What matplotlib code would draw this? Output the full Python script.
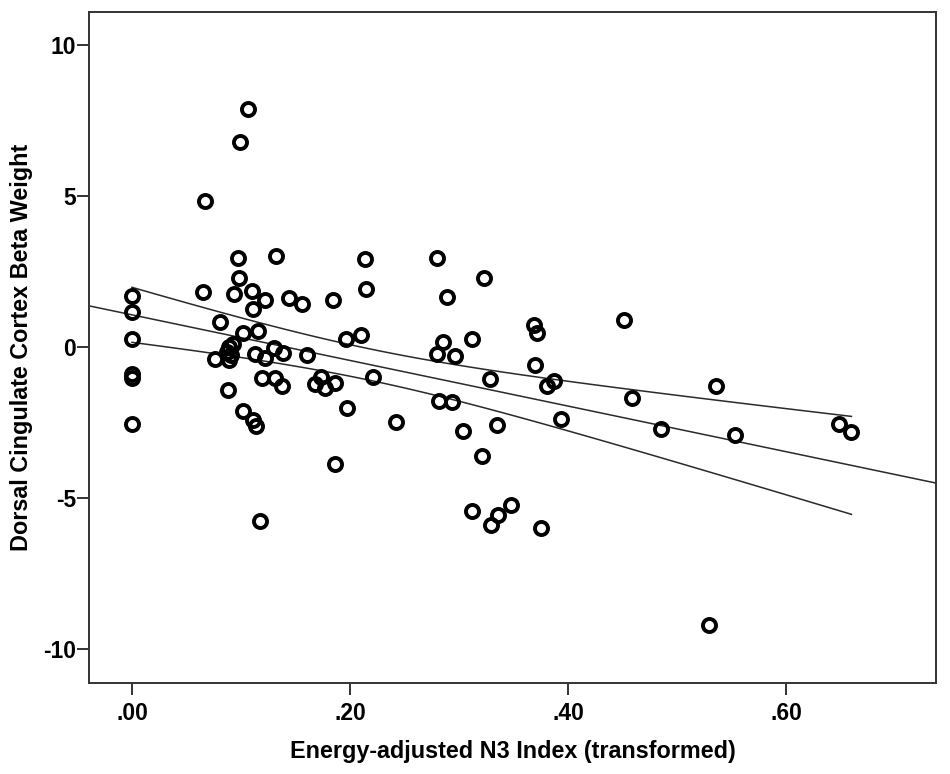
import numpy as np
import matplotlib
matplotlib.use("Agg")
import matplotlib.pyplot as plt

# values
n3_index = [0.000, 0.000, 0.000, 0.000, 0.000, 0.000,
            0.065, 0.067, 0.076, 0.081, 0.087, 0.088, 0.089, 0.089, 0.091,
            0.093, 0.094, 0.097, 0.098, 0.099, 0.102, 0.102, 0.106, 0.110,
            0.111, 0.111, 0.114, 0.113, 0.116, 0.117, 0.119, 0.122, 0.122,
            0.130, 0.131, 0.132, 0.139, 0.138, 0.144, 0.156, 0.161, 0.168,
            0.173, 0.177, 0.186, 0.184, 0.186, 0.196, 0.197, 0.210, 0.214,
            0.215, 0.221, 0.242, 0.280, 0.280, 0.282, 0.285, 0.289, 0.294,
            0.296, 0.304, 0.312, 0.312, 0.321, 0.323, 0.328, 0.329, 0.335,
            0.336, 0.348, 0.369, 0.372, 0.370, 0.375, 0.381, 0.387, 0.394,
            0.451, 0.459, 0.485, 0.529, 0.536, 0.553, 0.649, 0.660]
beta_weight = [1.67, 1.14, 0.27, -0.90, -1.02, -2.55,
               1.83, 4.82, -0.40, 0.82, -0.18, -1.43, 0.00, -0.45, -0.28,
               0.10, 1.75, 2.95, 2.28, 6.80, 0.46, -2.12, 7.88, 1.86,
               1.26, -2.41, -2.62, -0.22, 0.53, -5.78, -1.04, 1.56, -0.36,
               -0.03, -1.04, 3.02, -0.20, -1.29, 1.62, 1.42, -0.28, -1.24,
               -0.99, -1.35, -1.21, 1.56, -3.87, 0.27, -2.02, 0.41, 2.91,
               1.92, -1.00, -2.49, 2.94, -0.23, -1.80, 0.15, 1.64, -1.83,
               -0.29, -2.80, 0.26, -5.42, -3.62, 2.28, -1.06, -5.89, -2.60,
               -5.56, -5.23, 0.73, 0.46, -0.60, -6.00, -1.31, -1.12, -2.38,
               0.88, -1.68, -2.71, -9.20, -1.30, -2.91, -2.55, -2.81]

x_ticks = [0.0, 0.2, 0.4, 0.6]
x_tick_labels = [".00", ".20", ".40", ".60"]
y_ticks = [-10, -5, 0, 5, 10]
y_tick_labels = ["-10", "-5", "0", "5", "10"]

x = np.array(n3_index)
y = np.array(beta_weight)

# linear fit + 95% confidence band of the mean
n = len(x)
slope, intercept = np.polyfit(x, y, 1)
resid = y - (intercept + slope * x)
s = np.sqrt(np.sum(resid ** 2) / (n - 2))
sxx = np.sum((x - x.mean()) ** 2)
t_crit = 1.989  # t(0.975, df ~ 84)

fig = plt.figure(figsize=(9.5, 7.74), dpi=100)
ax = fig.add_axes([0.0937, 0.1176, 0.8916, 0.8669])

xlim = (-0.0394, 0.7376)
ylim = (-11.13, 11.09)

xf = np.linspace(xlim[0], xlim[1], 50)
ax.plot(xf, intercept + slope * xf, color="#2a2a2a", lw=1.1, zorder=1)

xc = np.linspace(x.min(), x.max(), 100)
yc = intercept + slope * xc
half = t_crit * s * np.sqrt(1 / n + (xc - x.mean()) ** 2 / sxx)
ax.plot(xc, yc + half, color="#2a2a2a", lw=1.1, zorder=1)
ax.plot(xc, yc - half, color="#2a2a2a", lw=1.1, zorder=1)

ax.plot(x, y, "o", ms=9.4, mfc="none", mec="black", mew=2.8, zorder=2)

ax.set_xlim(*xlim)
ax.set_ylim(*ylim)
ax.set_xticks(x_ticks)
ax.set_xticklabels(x_tick_labels)
ax.set_yticks(y_ticks)
ax.set_yticklabels(y_tick_labels)

font = {"family": "Liberation Sans", "weight": "bold"}
for lab in ax.get_xticklabels() + ax.get_yticklabels():
    lab.set_fontfamily("Liberation Sans")
    lab.set_fontweight("bold")
    lab.set_fontsize(16.5)
ax.tick_params(direction="out", length=8.5, width=1.4, color="#333333")
ax.tick_params(axis="y", pad=1)
ax.tick_params(axis="x", pad=5)

for sp in ax.spines.values():
    sp.set_color("#333333")
    sp.set_linewidth(1.4)

ax.set_xlabel("Energy-adjusted N3 Index (transformed)", fontsize=16.8, labelpad=11, **font)
ax.set_ylabel("Dorsal Cingulate Cortex Beta Weight", fontsize=16.8, labelpad=7, **font)

fig.savefig("out.png", dpi=100, facecolor="white")
